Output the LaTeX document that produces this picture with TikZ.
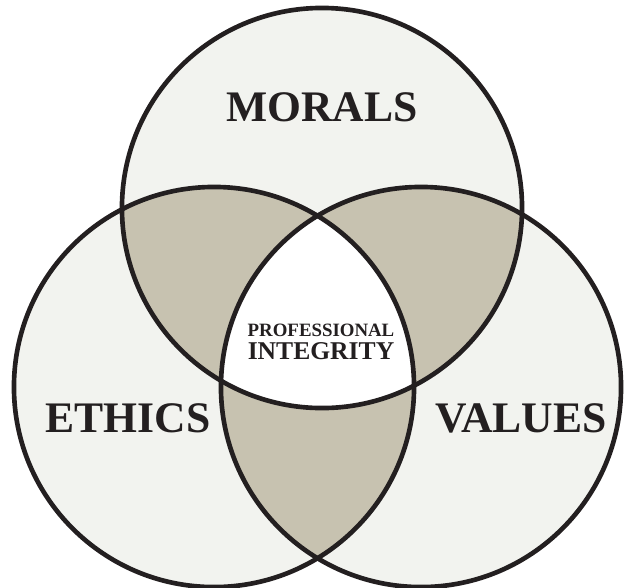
\documentclass[tikz,border=0pt]{standalone}
\usepackage{fontspec}
\setmainfont{Liberation Serif}
\definecolor{ringfill}{HTML}{F2F3EF}
\definecolor{lensfill}{HTML}{C7C2B0}
\definecolor{inkline}{HTML}{231F20}
\newcommand{\rad}{5cm}

\begin{document}
\begin{tikzpicture}[
    x=0.025cm, y=-0.025cm,
    ring/.style={draw=inkline, line width=3.3pt},
    bigword/.style={font=\fontsize{31}{31}\selectfont\bfseries, text=inkline},
    smallword/.style={font=\fontsize{13.4}{16.5}\selectfont\bfseries, text=inkline, align=center, inner sep=0pt},
]
\useasboundingbox (0,0) rectangle (630,587);

% circle centres
\coordinate (mc) at (322,208);
\coordinate (ec) at (214,387);
\coordinate (vc) at (421,387);

% ─────────────────────────────────────────
% Fills: outer, pairwise lenses, centre
% ─────────────────────────────────────────
\fill[ringfill] (mc) circle[radius=\rad] (ec) circle[radius=\rad] (vc) circle[radius=\rad];

\begin{scope}
  \clip (mc) circle[radius=\rad];
  \fill[lensfill] (ec) circle[radius=\rad] (vc) circle[radius=\rad];
\end{scope}
\begin{scope}
  \clip (ec) circle[radius=\rad];
  \fill[lensfill] (vc) circle[radius=\rad];
\end{scope}
\begin{scope}
  \clip (mc) circle[radius=\rad];
  \clip (ec) circle[radius=\rad];
  \fill[white] (vc) circle[radius=\rad];
\end{scope}

% Outlines
\draw[ring] (mc) circle[radius=\rad];
\draw[ring] (ec) circle[radius=\rad];
\draw[ring] (vc) circle[radius=\rad];

% ─────────────────────────────────────────
% Labels
% ─────────────────────────────────────────
\node[bigword] (morals) at (322,107) {MORALS};
\node[bigword] (ethics) at (128,418) {ETHICS};
\node[bigword] (values) at (521,418) {VALUES};
\node[smallword] (integrity) at (321,342)
    {PROFESSIONAL\\{\fontsize{18.2}{16.5}\selectfont INTEGRITY}};

\end{tikzpicture}
\end{document}
